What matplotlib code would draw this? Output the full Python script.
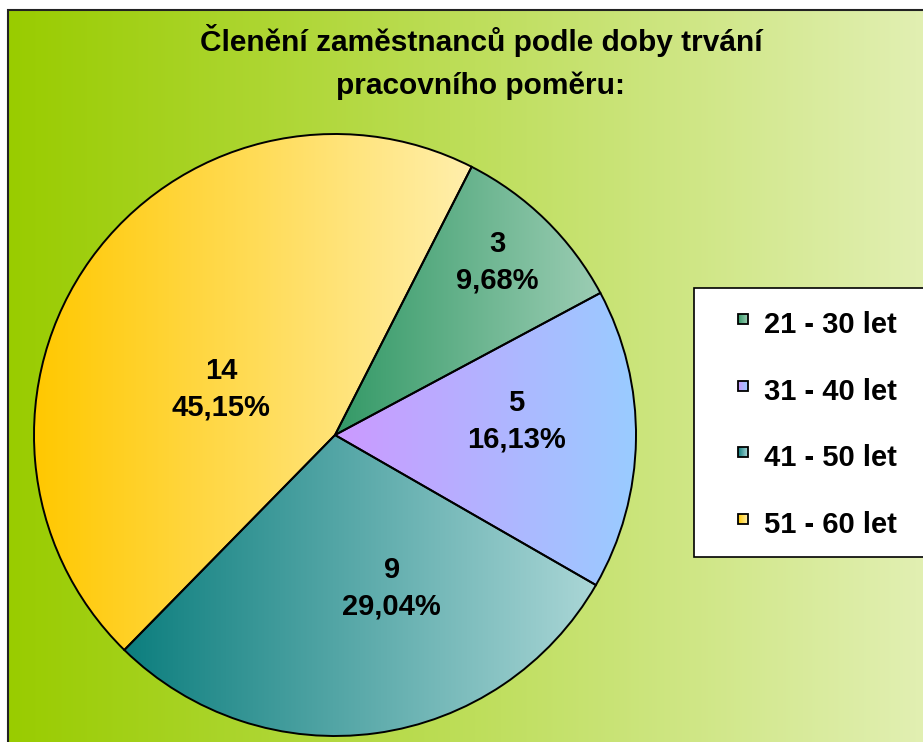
import numpy as np
import matplotlib
matplotlib.use("Agg")
import matplotlib.pyplot as plt
from matplotlib.colors import to_rgb
from matplotlib.patches import Rectangle

plt.rcParams['font.family'] = ['Liberation Sans', 'DejaVu Sans']
plt.rcParams['font.weight'] = 'bold'

# data
categories = ['21 - 30 let', '31 - 40 let', '41 - 50 let', '51 - 60 let']
counts = [3, 5, 9, 14]
percents = [9.68, 16.13, 29.04, 45.15]
title_lines = ['Členění zaměstnanců podle doby trvání', 'pracovního poměru:']

# gradient colours per slice (left -> right)
grad_left = ['#339966', '#CC99FF', '#0C7E7E', '#FFC800']
grad_right = ['#9CCDB4', '#99CCFF', '#AAD6D6', '#FFEFAC']

W, H = 923, 742


def hgrad(ax, c0, c1, extent, clip=None, zorder=1):
    a = np.array(to_rgb(c0))
    b = np.array(to_rgb(c1))
    t = np.linspace(0, 1, 256)[None, :, None]
    img = a + (b - a) * t
    im = ax.imshow(img, extent=extent, aspect='auto', origin='lower',
                   interpolation='bilinear', zorder=zorder)
    if clip is not None:
        im.set_clip_path(clip)
    return im


fig = plt.figure(figsize=(W / 100, H / 100), dpi=100)
ax = fig.add_axes([0, 0, 1, 1])

# chart area background + frame
hgrad(ax, '#99CC00', '#E3F0B6', (8, W + 20, -10, H - 10), zorder=0)
ax.add_patch(Rectangle((8, -10), W + 20, H, facecolor='none',
                       edgecolor='#222222', linewidth=1.5, zorder=1))

# pie
cx, cy, R = 335, H - 435, 301
wedges, _ = ax.pie(counts, startangle=63, counterclock=False,
                   center=(cx, cy), radius=R,
                   wedgeprops=dict(facecolor='none', edgecolor='black',
                                   linewidth=1.4, zorder=5))

label_r = [0.786, 0.605, 0.543, 0.408]
label_shift = [1.2, 5.3, 12.5, 13.7]

for i, w in enumerate(wedges):
    bb = w.get_path().get_extents()
    hgrad(ax, grad_left[i], grad_right[i], (bb.x0, bb.x1, bb.y0, bb.y1),
          clip=w, zorder=2)
    mid = np.deg2rad((w.theta1 + w.theta2) / 2 + label_shift[i])
    lx = cx + label_r[i] * R * np.cos(mid)
    ly = cy + label_r[i] * R * np.sin(mid)
    pct = f"{percents[i]:.2f}".replace('.', ',') + '%'
    ax.text(lx, ly, f"{counts[i]}\n{pct}", ha='center', va='center',
            fontsize=21, fontweight='bold', linespacing=1.4, zorder=6)

# title
title_base = [51, 94]
for line, yb in zip(title_lines, title_base):
    ax.text(481, H - yb, line, ha='center', va='baseline',
            fontsize=21.5, fontweight='bold', zorder=6)

# legend
ax.add_patch(Rectangle((694, H - 557), 260, 557 - 288, facecolor='white',
                       edgecolor='black', linewidth=1.2, zorder=6))
for i, cat in enumerate(categories):
    yb = 333 + 66.7 * i
    sq_y = yb - 14
    ext = (738, 748, H - sq_y - 5, H - sq_y + 5)
    hgrad(ax, grad_left[i], grad_right[i], ext, zorder=7)
    ax.add_patch(Rectangle((738, H - sq_y - 5), 10, 10, facecolor='none',
                           edgecolor='black', linewidth=1.3, zorder=8))
    ax.text(764, H - yb, cat, ha='left', va='baseline', fontsize=21,
            fontweight='bold', zorder=8)

ax.set_xlim(0, W)
ax.set_ylim(0, H)
ax.set_aspect('auto')
ax.axis('off')

fig.savefig('out.png', dpi=100, facecolor='white')
